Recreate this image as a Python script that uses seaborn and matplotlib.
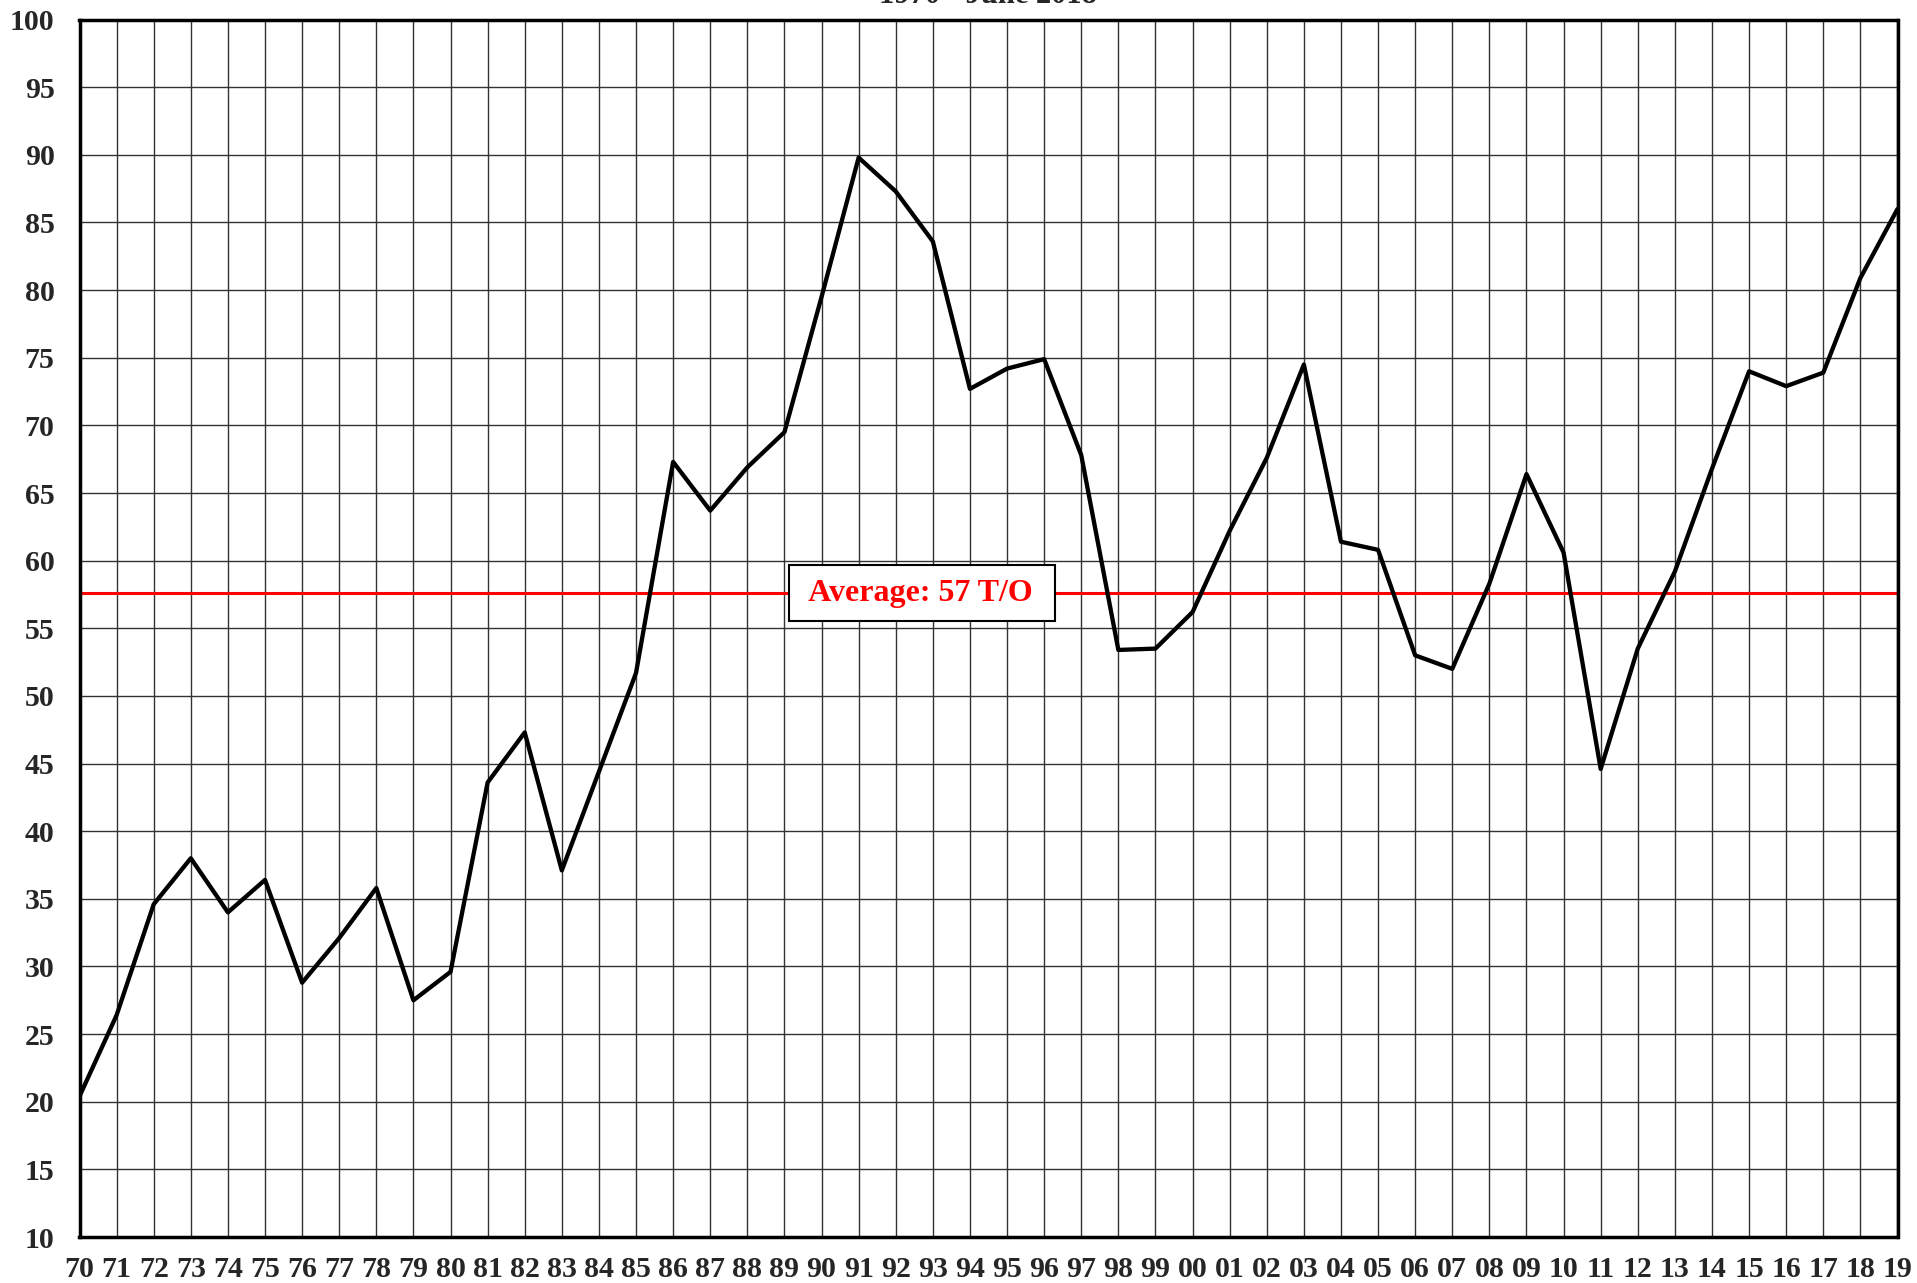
import matplotlib
matplotlib.use("Agg")
import matplotlib.pyplot as plt
import seaborn as sns
import pandas as pd

years = list(range(1970, 2020))
values = [20.4, 26.4, 34.6, 38.0, 34.0, 36.4, 28.8, 32.1, 35.8, 27.5,
          29.6, 43.6, 47.3, 37.1, 44.4, 51.7, 67.3, 63.7, 66.9, 69.5,
          79.5, 89.8, 87.3, 83.6, 72.7, 74.2, 74.9, 67.8, 53.4, 53.5,
          56.2, 62.2, 67.6, 74.5, 61.4, 60.8, 53.0, 52.0, 58.3, 66.4,
          60.6, 44.6, 53.5, 59.2, 66.8, 74.0, 72.9, 73.9, 80.9, 86.0]
average = 57.6
average_label = "Average: 57 T/O"
title = "1970 - June 2018"
x_labels = [f"{y % 100:02d}" for y in years]
y_ticks = list(range(10, 101, 5))

sns.set_style("white")
plt.rcParams['font.family'] = ['Liberation Serif', 'DejaVu Serif']

df = pd.DataFrame({"year": years, "value": values})

fig = plt.figure(figsize=(19.17, 12.83), dpi=100)
ax = fig.add_axes([79.5 / 1917, 1 - 1237 / 1283, (1897.5 - 79.5) / 1917, (1237 - 19.6) / 1283])

sns.lineplot(data=df, x="year", y="value", ax=ax, color="black", linewidth=3.1, zorder=3)
ax.axhline(average, color="#ff0000", linewidth=2.2, zorder=2)

ax.set_xlim(1970, 2019)
ax.set_ylim(10, 100)
ax.set_xticks(years)
ax.set_xticklabels(x_labels)
ax.set_yticks(y_ticks)
ax.set_xlabel("")
ax.set_ylabel("")
ax.grid(True, color="#333333", linewidth=1.0, zorder=0)
ax.set_axisbelow(True)
for s in ax.spines.values():
    s.set_color("black")
    s.set_linewidth(2.5)
ax.tick_params(axis="both", length=0, labelsize=21.5)
ax.tick_params(axis="x", pad=14)
ax.tick_params(axis="y", pad=18)
for lab in ax.get_xticklabels() + ax.get_yticklabels():
    lab.set_fontweight("bold")

ax.text(1992.7, average, " " + average_label + " ", color="#ff0000", fontsize=23, fontweight="bold",
        ha="center", va="center", zorder=5,
        bbox=dict(boxstyle="square,pad=0.42", facecolor="white", edgecolor="black", linewidth=1.5))

fig.text(988 / 1917, 1 - 3 / 1283, title, ha="center", va="baseline", fontsize=22, fontweight="bold")

fig.savefig("out.png", dpi=100)
